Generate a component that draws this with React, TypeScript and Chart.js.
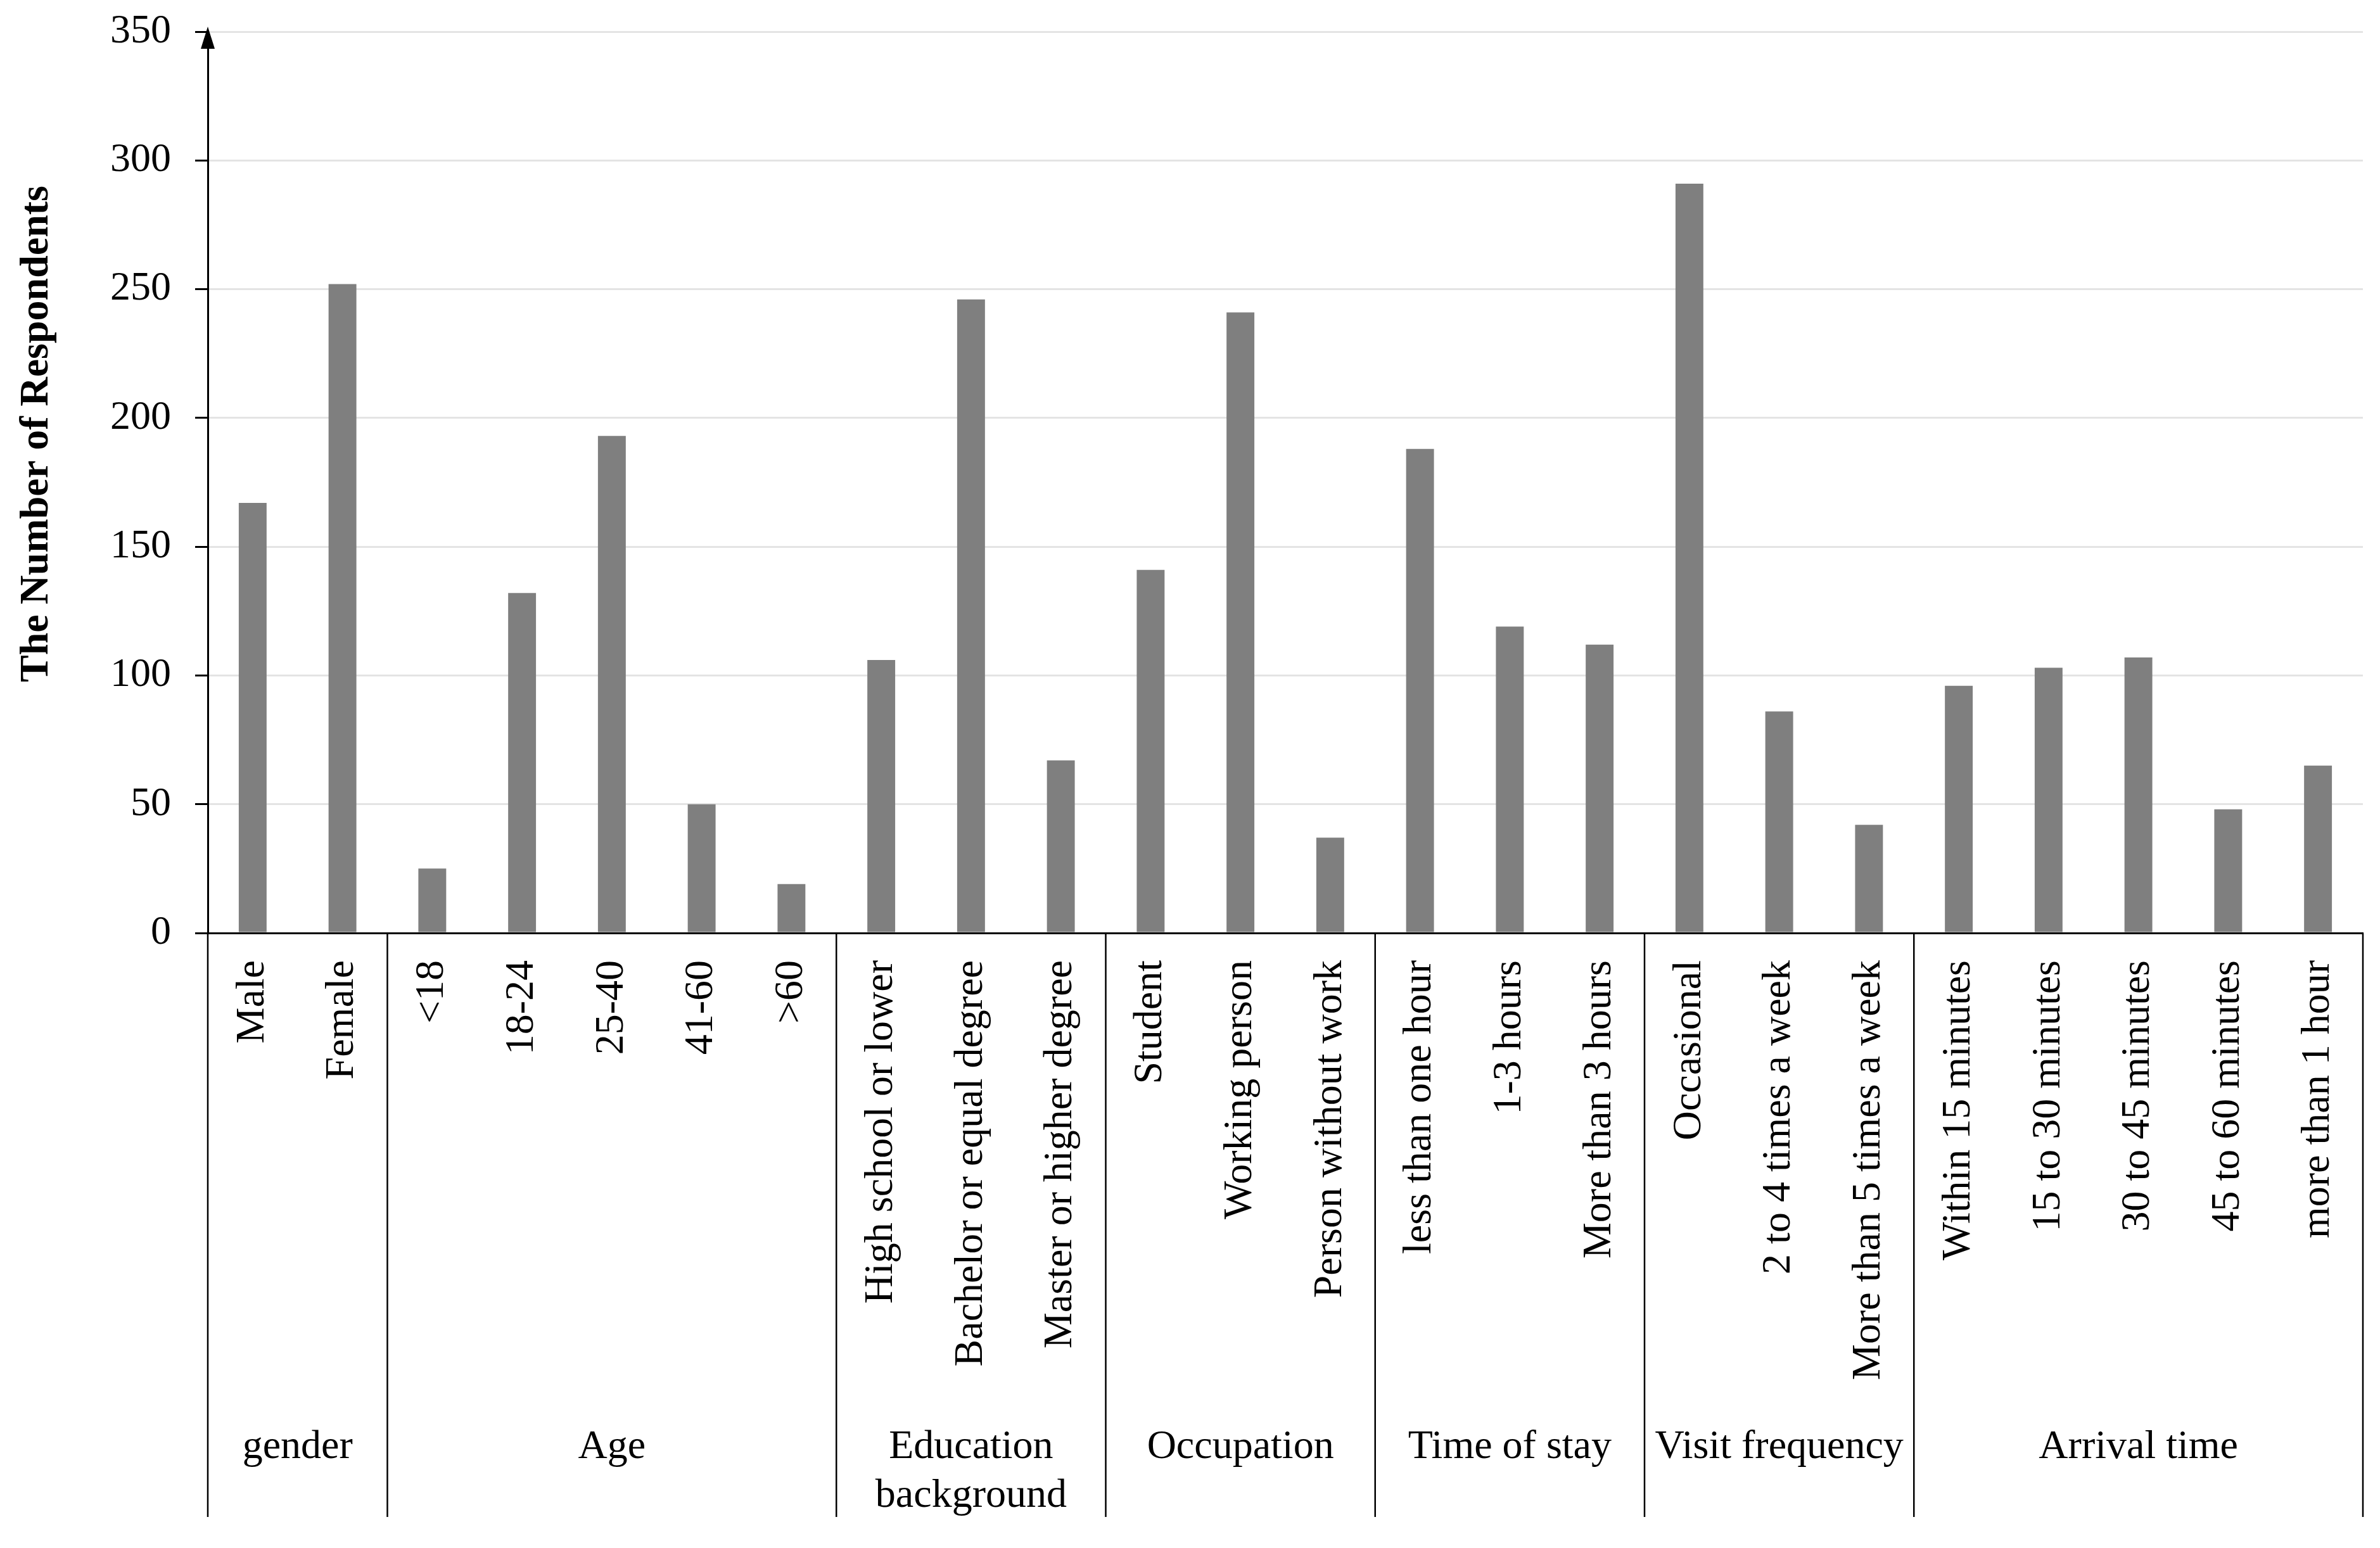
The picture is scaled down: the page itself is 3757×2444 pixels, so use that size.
import React, { useEffect, useRef } from "react";
import { Chart, registerables } from "chart.js";

Chart.register(...registerables);

const categories = [
  "Male", "Female",
  "<18", "18-24", "25-40", "41-60", ">60",
  "High school or lower", "Bachelor or equal degree", "Master or higher degree",
  "Student", "Working person", "Person without work",
  "less than one hour", "1-3 hours", "More than 3 hours",
  "Occasional", "2 to 4 times a week", "More than 5 times a week",
  "Within 15 minutes", "15 to 30 minutes", "30 to 45 minutes", "45 to 60 minutes", "more than 1 hour",
];

const counts = [
  167, 252,
  25, 132, 193, 50, 19,
  106, 246, 67,
  141, 241, 37,
  188, 119, 112,
  291, 86, 42,
  96, 103, 107, 48, 65,
];

const groupLabels = [
  ["gender"],
  ["Age"],
  ["Education", "background"],
  ["Occupation"],
  ["Time of stay"],
  ["Visit frequency"],
  ["Arrival time"],
];
const groupSizes = [2, 5, 3, 3, 3, 3, 5];

const yTitle = "The Number of Respondents";
const yMin = 0;
const yMax = 350;
const yStep = 50;

const W = 3757;
const H = 2444;
const FONT = "'Liberation Serif', 'Times New Roman', serif";

const decorPlugin = {
  id: "decor",
  afterDraw(chart: any) {
    const { ctx, chartArea } = chart;
    const xs = chart.scales.x;
    const ys = chart.scales.y;
    ctx.save();

    // boundaries between groups
    const bounds: number[] = [0];
    groupSizes.forEach((s) => bounds.push(bounds[bounds.length - 1] + s));
    const bx = (k: number) => {
      if (k === 0) return xs.left;
      if (k === categories.length) return xs.right;
      return (xs.getPixelForValue(k - 1) + xs.getPixelForValue(k)) / 2;
    };
    const lineBottom = chart.height - 49;
    ctx.strokeStyle = "#000";
    ctx.lineWidth = 2.5;
    bounds.forEach((k) => {
      const x = bx(k);
      ctx.beginPath();
      ctx.moveTo(x, chartArea.bottom);
      ctx.lineTo(x, lineBottom);
      ctx.stroke();
    });

    // group labels
    ctx.fillStyle = "#000";
    ctx.font = `64px ${FONT}`;
    ctx.textAlign = "center";
    ctx.textBaseline = "middle";
    const labelY = chart.height - 159;
    groupLabels.forEach((lines, gi) => {
      const cx = (bx(bounds[gi]) + bx(bounds[gi + 1])) / 2;
      lines.forEach((ln, li) => {
        ctx.fillText(ln, cx, labelY + li * 77);
      });
    });

    // y-axis title
    ctx.save();
    ctx.translate(58, 685);
    ctx.rotate(-Math.PI / 2);
    ctx.font = `bold 64px ${FONT}`;
    ctx.textAlign = "center";
    ctx.textBaseline = "middle";
    ctx.fillText(yTitle, 0, 0);
    ctx.restore();

    // arrow on y axis
    const ax = ys.right;
    const top = chartArea.top;
    ctx.fillStyle = "#000";
    ctx.beginPath();
    ctx.moveTo(ax, top - 8);
    ctx.lineTo(ax - 11, top + 27);
    ctx.lineTo(ax + 11, top + 27);
    ctx.closePath();
    ctx.fill();

    ctx.restore();
  },
};

export default function App() {
  const ref = useRef<HTMLCanvasElement>(null);
  useEffect(() => {
    if (!ref.current) return;
    const chart = new Chart(ref.current, {
      type: "bar",
      data: {
        labels: categories,
        datasets: [
          {
            data: counts,
            backgroundColor: "#7f7f7f",
            borderWidth: 0,
            barPercentage: 0.31,
            categoryPercentage: 1.0,
          },
        ],
      },
      options: {
        animation: false,
        responsive: false,
        devicePixelRatio: 1,
        layout: { padding: { top: 50, right: 27, bottom: 0, left: 0 } },
        plugins: {
          legend: { display: false },
          tooltip: { enabled: false },
          title: { display: false },
        },
        scales: {
          x: {
            grid: { display: false, drawTicks: false },
            border: { display: true, color: "#000", width: 3 },
            ticks: {
              autoSkip: false,
              minRotation: 90,
              maxRotation: 90,
              padding: 43,
              color: "#000",
              font: { family: FONT, size: 64 },
            },
            afterFit: (scale: any) => {
              scale.height = H - 1473;
              scale.paddingLeft = 0;
              scale.paddingRight = 0;
            },
          },
          y: {
            min: yMin,
            max: yMax,
            ticks: {
              stepSize: yStep,
              padding: 38,
              color: "#000",
              font: { family: FONT, size: 64 },
            },
            grid: {
              color: "#e4e4e4",
              lineWidth: 3,
              drawTicks: true,
              tickLength: 20,
              tickColor: "#000",
              tickWidth: 3,
            },
            border: { display: true, color: "#000", width: 3 },
            afterFit: (scale: any) => {
              scale.width = 328;
              scale.paddingTop = 0;
              scale.paddingBottom = 0;
            },
          },
        },
      },
      plugins: [decorPlugin],
    });
    return () => chart.destroy();
  }, []);
  return (
    <div style={{ position: "absolute", left: 0, top: 0, width: W, height: H, background: "#fff" }}>
      <canvas ref={ref} width={W} height={H} style={{ width: W, height: H, display: "block" }} />
    </div>
  );
}
